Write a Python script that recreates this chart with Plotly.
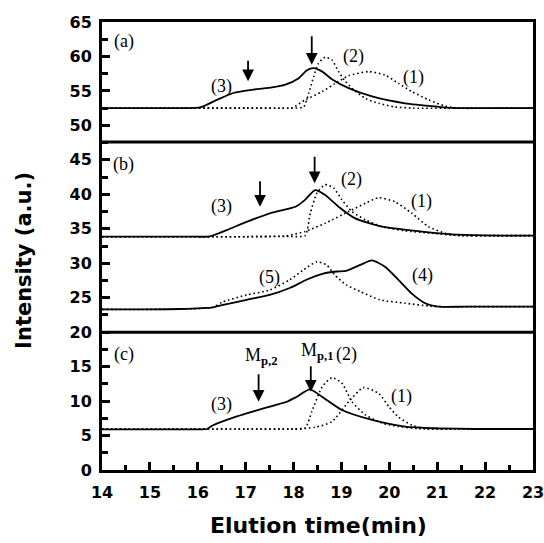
import plotly.graph_objects as go

# ---------------- data ----------------
# Panel (a)
a3_x = [14, 15.0, 15.7, 16.05, 16.4, 16.74, 17.16, 17.55, 17.83, 18.1, 18.28, 18.42, 18.6, 18.8, 19.15, 19.64, 20.33, 21.03, 21.3, 22.0, 23]
a3_y = [52.5, 52.5, 52.5, 52.6, 53.7, 54.7, 55.2, 55.5, 55.9, 56.8, 58.0, 58.3, 57.8, 56.7, 55.4, 54.2, 53.2, 52.7, 52.55, 52.5, 52.5]
a2_x = [14, 15.5, 17.0, 17.9, 18.21, 18.32, 18.42, 18.52, 18.66, 18.8, 18.94, 19.08, 19.25, 19.5, 19.78, 20.1, 20.5, 21.5, 23]
a2_y = [52.5, 52.5, 52.5, 52.5, 52.7, 54.7, 57.1, 59.0, 59.9, 59.5, 57.8, 56.4, 55.2, 53.9, 53.2, 52.7, 52.5, 52.5, 52.5]
a1_x = [14, 15.5, 17.0, 17.6, 17.97, 18.24, 18.6, 18.87, 19.15, 19.57, 19.91, 20.19, 20.47, 20.82, 21.17, 21.45, 22.2, 23]
a1_y = [52.5, 52.5, 52.5, 52.5, 52.55, 53.7, 54.9, 56.1, 57.2, 57.8, 57.3, 56.1, 54.9, 53.7, 52.8, 52.5, 52.5, 52.5]

# Panel (b), upper
b3_x = [14, 15.0, 15.9, 16.25, 16.6, 17.02, 17.55, 18.04, 18.24, 18.45, 18.66, 18.94, 19.29, 19.85, 20.68, 21.3, 22.0, 23]
b3_y = [33.85, 33.85, 33.85, 33.9, 34.8, 36.0, 37.35, 38.2, 39.2, 40.6, 39.9, 38.2, 36.5, 35.3, 34.6, 34.2, 34.05, 34.0]
b2_x = [14, 15.5, 17.0, 17.9, 18.24, 18.35, 18.49, 18.66, 18.84, 19.01, 19.22, 19.5, 19.85, 20.33, 20.89, 21.4, 22.2, 23]
b2_y = [33.85, 33.85, 33.85, 33.9, 34.0, 37.25, 40.2, 41.4, 40.9, 39.2, 37.5, 36.3, 35.3, 34.7, 34.35, 34.05, 34.0, 34.0]
b1_x = [14, 15.5, 17.0, 17.5, 17.83, 18.24, 18.66, 19.15, 19.5, 19.78, 20.12, 20.47, 20.82, 21.17, 21.45, 22.2, 23]
b1_y = [33.85, 33.85, 33.85, 33.9, 33.95, 34.6, 35.8, 37.5, 38.7, 39.5, 38.9, 37.25, 35.3, 34.35, 34.0, 34.0, 34.0]

# Panel (b), lower
b4_x = [14, 15.0, 15.63, 16.32, 16.53, 17.02, 17.5, 17.92, 18.27, 18.62, 18.9, 19.1, 19.39, 19.64, 19.91, 20.19, 20.47, 20.75, 21.03, 21.6, 23]
b4_y = [23.3, 23.3, 23.36, 23.6, 23.95, 24.7, 25.4, 26.4, 27.6, 28.5, 28.8, 28.9, 29.75, 30.4, 29.5, 27.6, 25.6, 24.2, 23.7, 23.7, 23.7]
b5_x = [14, 15.0, 15.7, 16.3, 16.53, 17.02, 17.5, 17.92, 18.2, 18.48, 18.69, 18.86, 19.1, 19.39, 19.8, 20.33, 20.82, 21.1, 21.8, 23]
b5_y = [23.3, 23.3, 23.35, 23.6, 24.4, 25.4, 26.1, 27.6, 29.0, 30.2, 29.75, 28.3, 26.85, 25.9, 24.7, 24.2, 23.8, 23.7, 23.7, 23.7]

# Panel (c)
c3_x = [14, 15.0, 15.8, 16.19, 16.32, 16.74, 17.02, 17.37, 17.86, 18.06, 18.34, 18.6, 19.01, 19.64, 20.33, 21.03, 21.8, 23]
c3_y = [5.9, 5.9, 5.9, 5.95, 6.5, 7.6, 8.2, 8.95, 9.9, 10.6, 11.7, 10.6, 8.7, 7.26, 6.3, 6.05, 5.95, 5.95]
c2_x = [14, 15.5, 17.0, 17.9, 18.24, 18.38, 18.6, 18.8, 19.01, 19.22, 19.5, 19.85, 20.19, 20.6, 21.5, 23]
c2_y = [5.95, 5.95, 5.95, 5.95, 6.05, 8.46, 12.1, 13.4, 12.6, 9.9, 8.0, 6.8, 6.3, 6.0, 5.95, 5.95]
c1_x = [14, 15.5, 17.0, 18.0, 18.45, 18.8, 19.15, 19.46, 19.78, 19.99, 20.19, 20.47, 20.75, 21.5, 23]
c1_y = [5.95, 5.95, 5.95, 5.95, 6.2, 7.0, 9.9, 11.95, 11.1, 9.2, 7.7, 6.5, 6.0, 5.95, 5.95]

# panel separators (y values)
separators = [47.6, 20.0]

# text labels: (x, y, text)
labels = [
    (14.45, 62.2, "(a)"), (16.5, 55.7, "(3)"), (19.25, 60.0, "(2)"), (20.5, 57.0, "(1)"),
    (14.45, 44.3, "(b)"), (16.5, 38.3, "(3)"), (19.22, 42.1, "(2)"), (20.68, 38.9, "(1)"),
    (17.5, 27.95, "(5)"), (20.7, 28.2, "(4)"),
    (14.45, 16.7, "(c)"), (16.5, 9.5, "(3)"), (19.1, 16.7, "(2)"), (20.26, 10.6, "(1)"),
    (17.33, 16.45, "M<sub><b>p,2</b></sub>"), (18.48, 17.2, "M<sub><b>p,1</b></sub>"),
]
# arrows: (x, tip y, length px)
arrows = [
    (17.05, 56.4, 22), (18.38, 58.8, 30),
    (17.3, 38.2, 27), (18.44, 41.6, 28),
    (17.27, 9.9, 29), (18.36, 11.36, 27),
]

x_ticks = list(range(14, 24))
y_ticks = list(range(0, 70, 5))

# ---------------- figure ----------------
fig = go.Figure()
solid = dict(color="black", width=1.8)
dotted = dict(color="black", width=1.6, dash="1.6px,2.8px")

for xs, ys, ln in [
    (a1_x, a1_y, dotted), (a2_x, a2_y, dotted), (a3_x, a3_y, solid),
    (b1_x, b1_y, dotted), (b2_x, b2_y, dotted), (b3_x, b3_y, solid),
    (b5_x, b5_y, dotted), (b4_x, b4_y, solid),
    (c1_x, c1_y, dotted), (c2_x, c2_y, dotted), (c3_x, c3_y, solid),
]:
    fig.add_trace(go.Scatter(x=xs, y=ys, mode="lines", line=dict(shape="spline", smoothing=0.6, **ln),
                             showlegend=False, hoverinfo="skip"))

for s in separators:
    fig.add_shape(type="line", xref="paper", x0=0, x1=1, y0=s, y1=s,
                  line=dict(color="black", width=3))

for x, y, t in labels:
    fig.add_annotation(x=x, y=y, text=t, showarrow=False,
                       font=dict(family="Liberation Serif", size=18, color="black"))

for x, y, L in arrows:
    fig.add_annotation(x=x, y=y, ax=0, ay=-L, text="", showarrow=True,
                       arrowhead=2, arrowsize=1.3, arrowwidth=1.8, arrowcolor="black")

fig.add_annotation(xref="paper", yref="paper", x=-0.181, y=0.469, text="Intensity (a.u.)",
                   textangle=-90, showarrow=False, xanchor="center", yanchor="middle",
                   font=dict(family="DejaVu Sans", size=21, color="black", weight="bold"))
fig.add_annotation(xref="paper", yref="paper", x=0.503, y=-0.123, text="Elution time(min)",
                   showarrow=False, xanchor="center", yanchor="middle",
                   font=dict(family="DejaVu Sans", size=22, color="black", weight="bold"))

tickfont = dict(family="DejaVu Sans", size=16, color="black", weight="bold")
fig.update_xaxes(range=[14, 23], tickvals=x_ticks, ticks="inside", ticklen=8, tickwidth=3,
                 tickcolor="black", showline=True, linewidth=3, linecolor="black", mirror=True,
                 showgrid=False, zeroline=False, tickfont=tickfont, ticklabelstandoff=6,
                 automargin=False, ticklabeloverflow="allow",
                 minor=dict(dtick=0.5, ticks="inside", ticklen=5, tickwidth=3, tickcolor="black"))
fig.update_yaxes(range=[0, 65], tickvals=y_ticks, ticks="inside", ticklen=8, tickwidth=3,
                 tickcolor="black", showline=True, linewidth=3, linecolor="black", mirror=True,
                 showgrid=False, zeroline=False, tickfont=tickfont, ticklabelstandoff=4,
                 automargin=False, ticklabeloverflow="allow",
                 minor=dict(dtick=2.5, ticks="inside", ticklen=6, tickwidth=3, tickcolor="black"))

fig.update_layout(width=544, height=543, margin=dict(l=102, r=11, t=22, b=73),
                  plot_bgcolor="white", paper_bgcolor="white")

fig.write_html("out.html")
